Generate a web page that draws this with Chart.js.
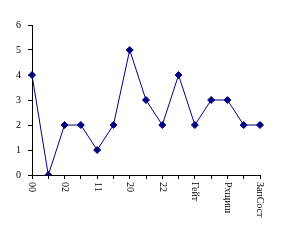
<!DOCTYPE html>
<html>
<head>
<meta charset="utf-8">
<script src="https://cdn.jsdelivr.net/npm/chart.js@4"></script>
<style>
  html, body { margin: 0; padding: 0; background: #fff; }
</style>
</head>
<body>
<canvas id="myChart" width="299" height="240"></canvas>
<script>
// categories (only every other one is labelled in the picture)
const labels = ["00", "", "02", "", "11", "", "20", "", "22", "", "Гейт", "", "Рхщиш", "", "ЗапСост"];
const values = [4, 0, 2, 2, 1, 2, 5, 3, 2, 4, 2, 3, 3, 2, 2];
const yTicks = [0, 1, 2, 3, 4, 5, 6];

const navy = "#000080";
const ctx = document.getElementById("myChart").getContext("2d");

// Chart.js only rotates x labels counter-clockwise, these read top to bottom
const verticalLabels = {
    id: "verticalLabels",
    afterDraw(chart) {
        const x = chart.scales.x;
        const c = chart.ctx;
        c.save();
        c.font = "10px 'Liberation Serif'";
        c.fillStyle = "#000";
        c.textAlign = "left";
        c.textBaseline = "middle";
        for (let i = 0; i < labels.length; i++) {
            if (!labels[i]) continue;
            c.save();
            c.translate(x.getPixelForTick(i), chart.chartArea.bottom + 7);
            c.rotate(Math.PI / 2);
            c.fillText(labels[i], 0, 0);
            c.restore();
        }
        c.restore();
    }
};

const axisGrid = {
    display: true,
    drawOnChartArea: false,
    drawTicks: true,
    tickLength: 4,
    color: "#000",
    tickColor: "#000",
    lineWidth: 1,
    tickWidth: 1
};

let myChart = new Chart(ctx, {
    type: "line",
    data: {
        labels: labels,
        datasets: [{
            data: values,
            borderColor: navy,
            backgroundColor: navy,
            borderWidth: 1,
            tension: 0,
            pointStyle: "rectRot",
            pointRadius: 3.5,
            pointBorderWidth: 1,
            pointBorderColor: navy,
            pointBackgroundColor: navy,
            fill: false
        }]
    },
    options: {
        responsive: false,
        animation: false,
        layout: { padding: { top: 25, right: 39, left: 0, bottom: 0 } },
        plugins: {
            legend: { display: false },
            tooltip: { enabled: false }
        },
        scales: {
            x: {
                offset: false,
                grid: axisGrid,
                border: { display: true, color: "#000", width: 1 },
                ticks: { display: false },
                afterFit(scale) { scale.height = 65; }
            },
            y: {
                min: 0,
                max: 6,
                afterBuildTicks(scale) { scale.ticks = yTicks.map(v => ({ value: v })); },
                grid: axisGrid,
                border: { display: true, color: "#000", width: 1 },
                ticks: { color: "#000", padding: 7, font: { family: "'Liberation Serif'", size: 10 } },
                afterFit(scale) { scale.width = 32; }
            }
        }
    },
    plugins: [verticalLabels]
});
</script>
</body>
</html>
